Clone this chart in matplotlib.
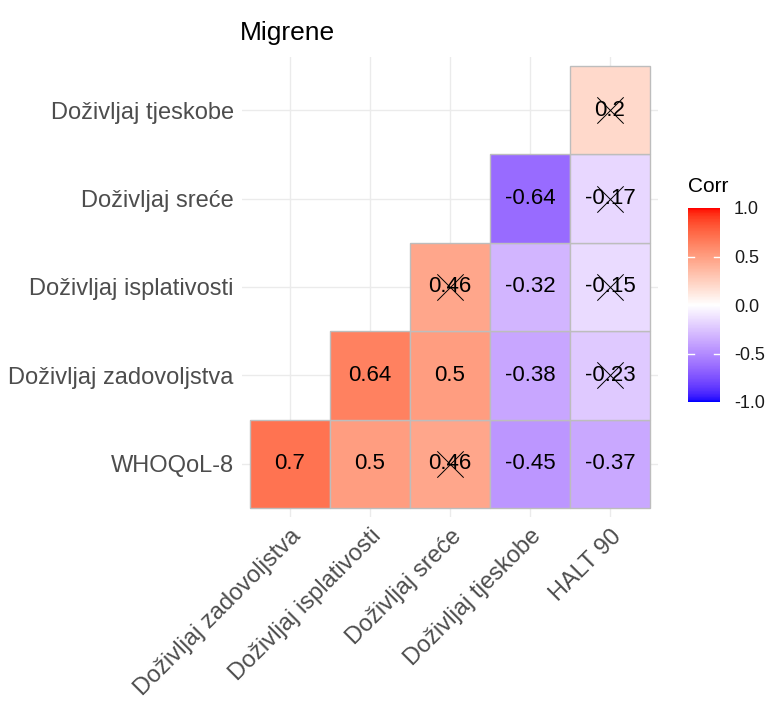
import numpy as np
import matplotlib.pyplot as plt
from matplotlib.colors import ListedColormap, Normalize
from matplotlib.colorbar import ColorbarBase

plt.rcParams['font.family'] = ['Liberation Sans', 'DejaVu Sans']

# Data (lower triangle as drawn by ggcorrplot)
x_labels = ['Doživljaj zadovoljstva', 'Doživljaj isplativosti', 'Doživljaj sreće',
            'Doživljaj tjeskobe', 'HALT 90']
y_labels = ['WHOQoL-8', 'Doživljaj zadovoljstva', 'Doživljaj isplativosti',
            'Doživljaj sreće', 'Doživljaj tjeskobe']
corr = [
    [0.70, 0.50, 0.46, -0.45, -0.37],
    [None, 0.64, 0.50, -0.38, -0.23],
    [None, None, 0.46, -0.32, -0.15],
    [None, None, None, -0.64, -0.17],
    [None, None, None, None, 0.20],
]
corr_text = [
    ['0.7', '0.5', '0.46', '-0.45', '-0.37'],
    [None, '0.64', '0.5', '-0.38', '-0.23'],
    [None, None, '0.46', '-0.32', '-0.15'],
    [None, None, None, '-0.64', '-0.17'],
    [None, None, None, None, '0.2'],
]
insignificant = [
    [False, False, True, False, False],
    [None, False, False, False, True],
    [None, None, True, False, True],
    [None, None, None, False, True],
    [None, None, None, None, True],
]


# blue-white-red gradient interpolated in Lab space (like ggplot2 gradient2)
def srgb_to_lab(rgb):
    c = np.array(rgb, dtype=float)
    c = np.where(c > 0.04045, ((c + 0.055) / 1.055) ** 2.4, c / 12.92)
    m = np.array([[0.4124, 0.3576, 0.1805],
                  [0.2126, 0.7152, 0.0722],
                  [0.0193, 0.1192, 0.9505]])
    xyz = m @ c / np.array([0.95047, 1.0, 1.08883])
    f = np.where(xyz > 0.008856, np.cbrt(xyz), 7.787 * xyz + 16 / 116)
    return np.array([116 * f[1] - 16, 500 * (f[0] - f[1]), 200 * (f[1] - f[2])])


def lab_to_srgb(lab):
    L, a, b = lab
    fy = (L + 16) / 116
    fx = fy + a / 500
    fz = fy - b / 200
    f = np.array([fx, fy, fz])
    xyz = np.where(f ** 3 > 0.008856, f ** 3, (f - 16 / 116) / 7.787)
    xyz = xyz * np.array([0.95047, 1.0, 1.08883])
    m = np.array([[3.2406, -1.5372, -0.4986],
                  [-0.9689, 1.8758, 0.0415],
                  [0.0557, -0.2040, 1.0570]])
    c = m @ xyz
    c = np.where(c > 0.0031308, 1.055 * np.clip(c, 0, None) ** (1 / 2.4) - 0.055, 12.92 * c)
    return np.clip(c, 0, 1)


lab_blue = srgb_to_lab([0, 0, 1])
lab_white = srgb_to_lab([1, 1, 1])
lab_red = srgb_to_lab([1, 0, 0])
cols = []
for v in np.linspace(-1, 1, 256):
    if v < 0:
        lab = lab_white + (lab_blue - lab_white) * (-v)
    else:
        lab = lab_white + (lab_red - lab_white) * v
    cols.append(lab_to_srgb(lab))
cmap = ListedColormap(cols)
norm = Normalize(-1, 1)

fig = plt.figure(figsize=(7.67, 7.22), dpi=100)
ax = fig.add_axes([0.3155, 0.284, 0.5424, 0.637])

n = len(x_labels)
for i in range(n):
    ax.axvline(i, color='#ebebeb', lw=1.0, zorder=0)
    ax.axhline(i, color='#ebebeb', lw=1.0, zorder=0)

for r in range(n):
    for c in range(n):
        v = corr[r][c]
        if v is None:
            continue
        ax.add_patch(plt.Rectangle((c - 0.5, r - 0.5), 1, 1, facecolor=cmap(norm(v)),
                                   edgecolor='#bdbdbd', lw=1.0, zorder=2))
        ax.text(c, r, corr_text[r][c], ha='center', va='center', fontsize=16,
                color='black', zorder=3)
        if insignificant[r][c]:
            ax.scatter(c, r, marker='x', s=360, color='black', linewidths=0.7, zorder=4)

ax.set_xlim(-0.6, n - 0.4)
ax.set_ylim(-0.6, n - 0.4)
ax.set_xticks(range(n))
ax.set_yticks(range(n))
ax.set_xticklabels(x_labels, rotation=45, ha='right', va='top', rotation_mode='anchor',
                   fontsize=17, color='#4d4d4d')
ax.set_yticklabels(y_labels, fontsize=17, color='#4d4d4d')
ax.tick_params(length=0, pad=6)
for s in ax.spines.values():
    s.set_visible(False)
ax.set_title('Migrene', loc='left', fontsize=19, x=-0.005, pad=12)

# colour bar
cax = fig.add_axes([688 / 767, 1 - 402 / 722, 32 / 767, 194 / 722])
cb = ColorbarBase(cax, cmap=cmap, norm=norm, ticks=[-1, -0.5, 0, 0.5, 1])
cb.outline.set_visible(False)
cb.ax.set_yticklabels(['-1.0', '-0.5', '0.0', '0.5', '1.0'], fontsize=13, color='#1a1a1a')
cb.ax.tick_params(length=0, pad=10)
for t in [-0.5, 0, 0.5]:
    cax.plot([0, 0.2], [t, t], color='white', lw=1)
    cax.plot([0.8, 1.0], [t, t], color='white', lw=1)
fig.text(688 / 767, 1 - 186 / 722, 'Corr', fontsize=15, ha='left', va='center')

fig.savefig('out.png', dpi=100)
